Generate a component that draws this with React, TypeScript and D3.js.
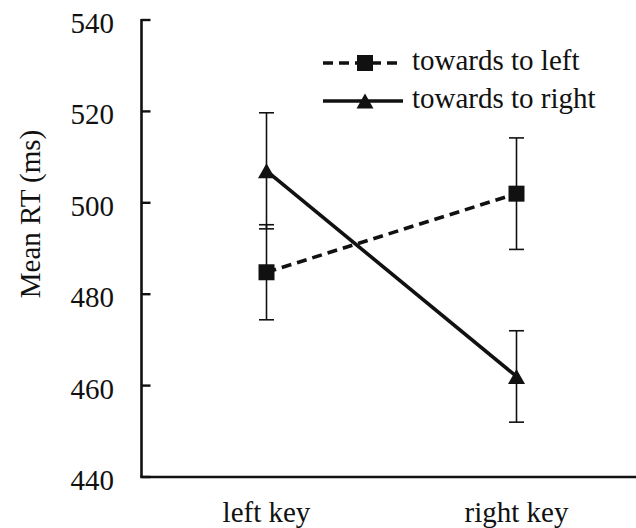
import React from "react";
import * as d3 from "d3";

const categories = ["left key", "right key"];
const seriesNames = ["towards to left", "towards to right"];
const towardsLeft = [484.8, 502];
const towardsLeftErr = [10.4, 12.2];
const towardsRight = [507, 462];
const towardsRightErr = [12.7, 10];
const yTicks = [440, 460, 480, 500, 520, 540];
const yTitle = "Mean RT (ms)";

const W = 636;
const H = 528;
const FS = 29;
const INK = "#111";

const textStyle: React.CSSProperties = { fontFamily: '"Liberation Serif"', fontSize: FS };

export default function App() {
  const x = d3.scaleBand<string>().domain(categories).range([141.5, 641.5]).padding(0);
  const y = d3.scaleLinear().domain([440, 540]).range([477, 20]);
  const cx = (c: string) => (x(c) as number) + x.bandwidth() / 2;

  const series = [
    { name: seriesNames[0], values: towardsLeft, errs: towardsLeftErr, dash: "10,6", marker: "square" },
    { name: seriesNames[1], values: towardsRight, errs: towardsRightErr, dash: undefined, marker: "triangle" },
  ];

  const line = d3
    .line<number>()
    .x((_, i) => cx(categories[i]))
    .y((v) => y(v));

  const marker = (kind: string, px: number, py: number, key: string) => {
    if (kind === "square") {
      return <rect key={key} x={px - 8} y={py - 8} width={16} height={16} fill={INK} />;
    }
    const p = d3.path();
    p.moveTo(px, py - 7.5);
    p.lineTo(px + 8.5, py + 7.5);
    p.lineTo(px - 8.5, py + 7.5);
    p.closePath();
    return <path key={key} d={p.toString()} fill={INK} />;
  };

  const legendY = [63, 101];
  const legendX0 = 323;
  const legendX1 = 403;

  return (
    <svg
      width={W}
      height={H}
      style={{ position: "absolute", left: 0, top: 0, background: "#fff" }}
    >
      <rect width={W} height={H} fill="#fff" />

      {/* axes */}
      <line x1={141.5} x2={141.5} y1={y(540) - 1} y2={y(440)} stroke={INK} strokeWidth={2.6} />
      <line x1={140.2} x2={W} y1={y(440)} y2={y(440)} stroke={INK} strokeWidth={2.6} />
      {yTicks.map((t) => (
        <g key={t}>
          <line x1={141.5} x2={150.5} y1={y(t)} y2={y(t)} stroke={INK} strokeWidth={2.4} />
          <text x={114} y={y(t) + 13} textAnchor="end" style={textStyle} fill={INK}>
            {t}
          </text>
        </g>
      ))}
      {categories.map((c) => (
        <text key={c} x={cx(c)} y={522} textAnchor="middle" style={textStyle} fill={INK}>
          {c}
        </text>
      ))}
      <text
        transform={`translate(40,214) rotate(-90)`}
        textAnchor="middle"
        style={textStyle}
        fill={INK}
      >
        {yTitle}
      </text>

      {/* error bars */}
      {series.map((s) =>
        s.values.map((v, i) => {
          const px = cx(categories[i]);
          const top = y(v + s.errs[i]);
          const bot = y(v - s.errs[i]);
          return (
            <g key={s.name + i} stroke={INK} strokeWidth={1.6}>
              <line x1={px} x2={px} y1={top} y2={bot} />
              <line x1={px - 7.5} x2={px + 7.5} y1={top} y2={top} />
              <line x1={px - 7.5} x2={px + 7.5} y1={bot} y2={bot} />
            </g>
          );
        })
      )}

      {/* series lines and markers */}
      {series.map((s) => (
        <g key={s.name}>
          <path
            d={line(s.values) || ""}
            fill="none"
            stroke={INK}
            strokeWidth={3.6}
            strokeDasharray={s.dash}
          />
          {s.values.map((v, i) => marker(s.marker, cx(categories[i]), y(v), s.name + i))}
        </g>
      ))}

      {/* legend */}
      {series.map((s, k) => (
        <g key={"lg" + s.name}>
          <line
            x1={legendX0}
            x2={legendX1}
            y1={legendY[k]}
            y2={legendY[k]}
            stroke={INK}
            strokeWidth={3.6}
            strokeDasharray={s.dash}
          />
          {marker(s.marker, (legendX0 + legendX1) / 2 + 2, legendY[k], "lgm" + k)}
          <text x={412} y={legendY[k] + 7} style={textStyle} fill={INK}>
            {s.name}
          </text>
        </g>
      ))}
    </svg>
  );
}
